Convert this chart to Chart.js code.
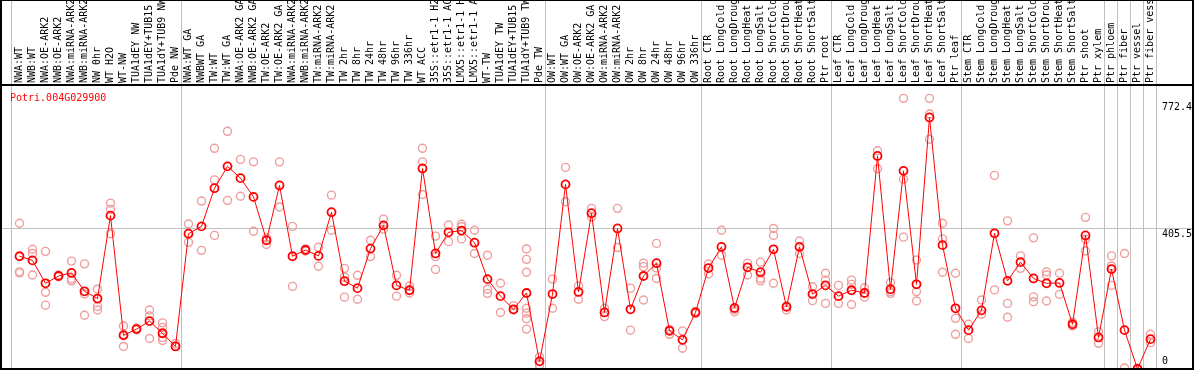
<!DOCTYPE html>
<html>
<head>
<meta charset="utf-8">
<script src="https://cdn.jsdelivr.net/npm/chart.js@4.4.0/dist/chart.umd.min.js"></script>
<style>
    html, body { margin: 0; padding: 0; background: #ffffff; }
    canvas { display: block; }
</style>
</head>
<body>
<canvas id="expr-chart" width="1194" height="370"></canvas>
<script>
// 基因名
const geneName = 'Potri.004G029900';

// 样本名（上方竖排标签）
const categories = [
    'NWA:WT', 'NWB:WT', 'NWA:OE-ARK2', 'NWB:OE-ARK2', 'NWA:miRNA-ARK2', 'NWB:miRNA-ARK2',
    'NW 0hr', 'WT H2O', 'WT-NW', 'TUA1dEY NW', 'TUA1dEY+TUB15 NW', 'TUA1dY+TUB9 NW', 'Pde NW',
    'NWA:WT GA', 'NWBWT GA', 'TW:WT', 'TW:WT GA', 'NWA:OE-ARK2 GA', 'NWB:OE-ARK2 GA',
    'TW:OE-ARK2', 'TW:OE-ARK2 GA', 'NWA:miRNA-ARK2', 'NWB:miRNA-ARK2', 'TW:miRNA-ARK2',
    'TW:miRNA-ARK2', 'TW 2hr', 'TW 8hr', 'TW 24hr', 'TW 48hr', 'TW 96hr', 'TW 336hr',
    'WT ACC', '35S::etr1-1 H2O', '35S::etr1-1 ACC', 'LMX5::etr1-1 H2O', 'LMX5::etr1-1 ACC',
    'WT-TW', 'TUA1dEY TW', 'TUA1dEY+TUB15 TW', 'TUA1dY+TUB9 TW', 'Pde TW',
    'OW:WT', 'OW:WT GA', 'OW:OE-ARK2', 'OW:OE-ARK2 GA', 'OW:miRNA-ARK2', 'OW:miRNA-ARK2',
    'OW 2hr', 'OW 8hr', 'OW 24hr', 'OW 48hr', 'OW 96hr', 'OW 336hr',
    'Root CTR', 'Root LongCold', 'Root LongDrought', 'Root LongHeat', 'Root LongSalt',
    'Root ShortCold', 'Root ShortDrought', 'Root ShortHeat', 'Root ShortSalt', 'Ptr root',
    'Leaf CTR', 'Leaf LongCold', 'Leaf LongDrought', 'Leaf LongHeat', 'Leaf LongSalt',
    'Leaf ShortCold', 'Leaf ShortDrought', 'Leaf ShortHeat', 'Leaf ShortSalt', 'Ptr leaf',
    'Stem CTR', 'Stem LongCold', 'Stem LongDrought', 'Stem LongHeat', 'Stem LongSalt',
    'Stem ShortCold', 'Stem ShortDrought', 'Stem ShortHeat', 'Stem ShortSalt', 'Ptr shoot',
    'Ptr xylem', 'Ptr phloem', 'Ptr fiber', 'Ptr vessel', 'Ptr fiber vessel'
];

// 平均表达量
const meanValues = [
    325, 313, 247, 268, 277, 224, 203, 442, 97, 115, 138, 103, 65,
    390, 411, 521, 584, 550, 496, 371, 529, 325, 343, 326, 452, 253, 233, 347, 414, 241, 227,
    578, 333, 394, 399, 364, 259, 210, 172, 219, 22,
    216, 532, 222, 449, 163, 405, 172, 268, 305, 110, 84, 163,
    291, 352, 176, 293, 279, 345, 179, 352, 216, 241,
    210, 227, 219, 614, 230, 571, 244, 725, 357, 175,
    112, 169, 391, 254, 308, 261, 247, 248, 129, 385, 91,
    288, 112, 0, 86
];

// 各重复的表达量
const replicateValues = [
    [420, 280, 277], [345, 333, 271], [339, 221, 184], [266, 271], [311, 260, 254],
    [303, 216, 155], [230, 180, 170], [478, 460, 390], [124, 65, 100], [113, 118],
    [170, 153, 88], [133, 120, 91, 82], [73, 66],
    [418, 365], [484, 342], [636, 545, 385], [685, 486], [604, 498], [597, 397],
    [378, 359], [597, 467], [411, 238], [340, 346], [351, 296], [501, 400],
    [290, 265, 207], [270, 201], [371, 324], [432, 403], [270, 210], [239, 219],
    [636, 597, 503], [383, 324, 287], [415, 367], [417, 410, 375], [400, 333],
    [328, 230, 218], [247, 163], [182, 170], [346, 316, 279, 175, 161, 145, 115], [35, 11],
    [259, 175], [581, 482], [239, 201], [463, 438], [175, 151], [463, 350],
    [233, 112], [305, 295, 199], [362, 291, 261], [114, 100], [110, 60], [160, 166],
    [303, 274], [400, 328], [172, 165], [305, 271], [308, 261, 254],
    [405, 385, 247], [182, 170], [369, 333], [237, 197], [276, 256, 189],
    [241, 189], [256, 244, 186], [234, 207], [629, 577], [249, 223, 218],
    [780, 547, 380], [314, 223, 196], [780, 735, 662], [420, 375, 279], [276, 146, 100],
    [129, 88], [199, 158], [558, 228], [427, 189, 149], [326, 290],
    [378, 208, 194], [280, 271, 196], [276, 215], [135, 124], [437, 374, 340], [107, 74],
    [326, 297, 241], [333, 3], [1, 2], [100, 76]
];

// 分组结束的样本序号（竖线位置）
const groupEnds = [12, 40, 52, 62, 72, 83, 84, 85, 86, 87];

// 右侧刻度
const yTickValues = [0, 405.5, 772.4];

const monoFont = 'DejaVu Sans Mono';

// 边框、分组线、标题、右侧刻度
const framePlugin = {
    id: 'frame',
    beforeDatasetsDraw(chart) {
        const { ctx, chartArea, scales: { x } } = chart;
        ctx.save();
        ctx.strokeStyle = '#c0c0c0';
        ctx.lineWidth = 1;
        const seps = [-0.69].concat(groupEnds.map(i => i + 0.385));
        seps.forEach(v => {
            const px = Math.round(x.getPixelForValue(v)) + 0.5;
            ctx.beginPath();
            ctx.moveTo(px, 0);
            ctx.lineTo(px, chartArea.bottom);
            ctx.stroke();
        });
        ctx.restore();
    },
    afterDraw(chart) {
        const { ctx, chartArea, scales: { y } } = chart;
        const w = chart.width, h = chart.height;
        ctx.save();
        ctx.strokeStyle = '#000000';
        ctx.lineWidth = 2;
        ctx.beginPath();
        ctx.moveTo(1, 0); ctx.lineTo(1, h);
        ctx.moveTo(w - 1, 0); ctx.lineTo(w - 1, h);
        ctx.moveTo(0, 85); ctx.lineTo(w, 85);
        ctx.moveTo(0, h - 1); ctx.lineTo(w, h - 1);
        ctx.stroke();
        ctx.lineWidth = 1;
        ctx.beginPath();
        ctx.moveTo(0, 0.5); ctx.lineTo(w, 0.5);
        ctx.stroke();

        ctx.font = '10px ' + monoFont;
        ctx.fillStyle = '#ff0000';
        ctx.textAlign = 'left';
        ctx.textBaseline = 'alphabetic';
        ctx.fillText(geneName, 10, 101);

        ctx.fillStyle = '#000000';
        yTickValues.forEach(v => {
            const py = y.getPixelForValue(v);
            if (v === 0) {
                ctx.textBaseline = 'bottom';
                ctx.fillText(String(v), chartArea.right - 30, py - 3);
            } else {
                ctx.textBaseline = 'top';
                ctx.fillText(String(v), chartArea.right - 30, py + 1.5);
            }
        });
        ctx.restore();
    }
};

const repPoints = [];
replicateValues.forEach((reps, i) => {
    reps.forEach(v => repPoints.push({ x: i, y: v }));
});

const ctx = document.getElementById('expr-chart').getContext('2d');
new Chart(ctx, {
    type: 'line',
    data: {
        datasets: [
            {
                label: geneName,
                data: meanValues.map((v, i) => ({ x: i, y: v })),
                borderColor: '#ff0000',
                borderWidth: 1,
                tension: 0,
                pointRadius: 4,
                pointBorderWidth: 1.8,
                pointBorderColor: '#ff0000',
                pointBackgroundColor: 'rgba(0,0,0,0)'
            },
            {
                label: 'replicates',
                data: repPoints,
                showLine: false,
                pointRadius: 4,
                pointBorderWidth: 1.4,
                pointBorderColor: '#ef9d9d',
                pointBackgroundColor: 'rgba(0,0,0,0)'
            }
        ]
    },
    options: {
        responsive: false,
        animation: false,
        layout: { autoPadding: false, padding: { left: 1, right: 2, top: 0, bottom: 1 } },
        plugins: {
            legend: { display: false },
            tooltip: { enabled: false }
        },
        scales: {
            x: {
                type: 'linear',
                position: 'top',
                min: -1.423,
                max: 90.192,
                afterBuildTicks: s => { s.ticks = categories.map((_, i) => ({ value: i })); },
                afterFit: s => {
                    s.height = 86;
                    s.paddingLeft = 0;
                    s.paddingRight = 0;
                },
                grid: { display: false, drawTicks: false },
                border: { display: false },
                ticks: {
                    autoSkip: false,
                    minRotation: 90,
                    maxRotation: 90,
                    padding: 3,
                    labelOffset: 12,
                    color: '#000000',
                    font: { family: monoFont, size: 10 },
                    callback: (v, i) => categories[i]
                }
            },
            y: {
                min: 0,
                max: 815.6,
                afterBuildTicks: s => { s.ticks = yTickValues.map(v => ({ value: v })); },
                afterFit: s => { s.width = 0; },
                grid: {
                    color: c => (c.tick && c.tick.value === 405.5) ? '#c0c0c0' : 'rgba(0,0,0,0)',
                    drawTicks: false
                },
                border: { display: false },
                ticks: { display: false }
            }
        }
    },
    plugins: [framePlugin]
});
</script>
</body>
</html>
